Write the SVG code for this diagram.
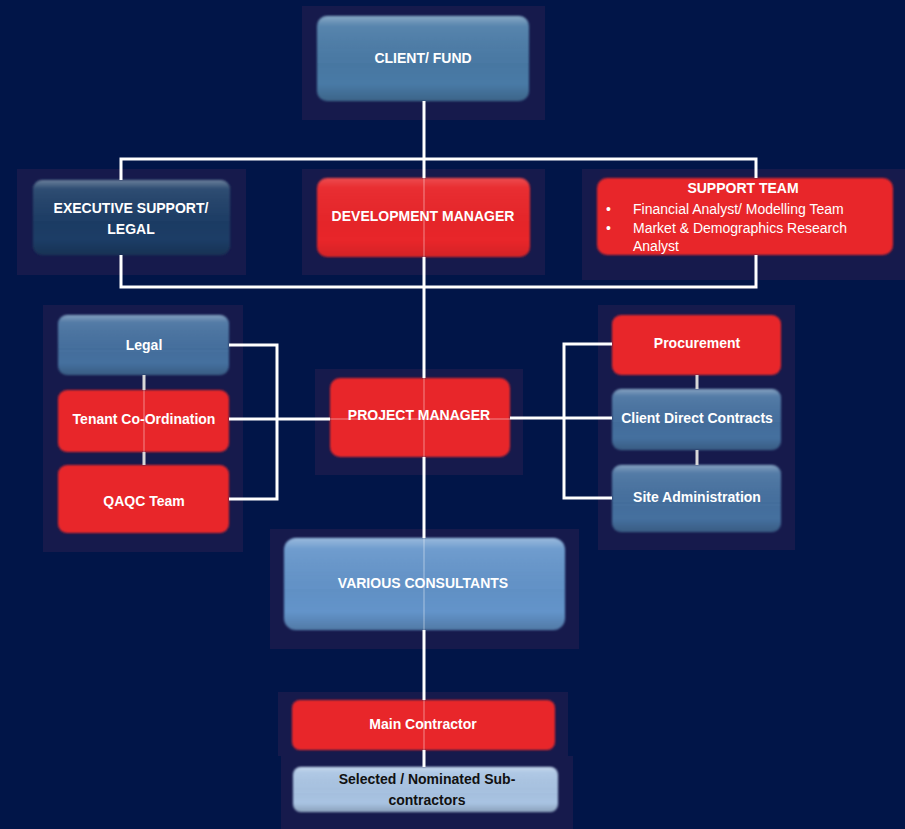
<svg xmlns="http://www.w3.org/2000/svg" width="905" height="829" viewBox="0 0 905 829">
<defs>
<style>
.panel{fill:#161a4c}
.box{filter:url(#soft)}
.red{fill:#e8262a}
.dblue{fill:#1f3e66}
.mblue{fill:#45709f}
.cblue{fill:#4a7aa6}
.vblue{fill:#6394ca}
.lblue{fill:#a9c4e3}
.gloss{fill:url(#gloss)}
.t{font-family:"Liberation Sans",Arial,sans-serif;font-size:14px;font-weight:bold;fill:#ffffff;text-anchor:middle}
.tb{font-family:"Liberation Sans",Arial,sans-serif;font-size:14px;font-weight:bold;fill:#111111;text-anchor:middle}
.tr{font-family:"Liberation Sans",Arial,sans-serif;font-size:14px;fill:#ffffff}
.ln{fill:none;stroke:#ffffff;stroke-width:3}
.lg{fill:none;stroke:#d8d8d8;stroke-width:3}
.lf{fill:none;stroke:#ffffff;stroke-width:1.5;opacity:0.3}
</style>
<filter id="soft" x="-5%" y="-10%" width="110%" height="120%">
<feGaussianBlur stdDeviation="1.3"/>
</filter>
<linearGradient id="gloss" x1="0" y1="0" x2="0" y2="1">
<stop offset="0" stop-color="#ffffff" stop-opacity="0.35"/>
<stop offset="0.12" stop-color="#ffffff" stop-opacity="0.08"/>
<stop offset="0.8" stop-color="#000000" stop-opacity="0"/>
<stop offset="1" stop-color="#000000" stop-opacity="0.18"/>
</linearGradient>
</defs>
<rect width="905" height="829" fill="#011548"/>

<g id="client-fund">
<rect class="panel" x="302" y="6" width="243" height="114"/>
<rect class="box cblue" x="317" y="16" width="212" height="85" rx="10"/>
<rect class="box gloss" x="317" y="16" width="212" height="85" rx="10"/>
<text class="t" x="423" y="62.5">CLIENT/ FUND</text>
</g>

<g id="executive-support">
<rect class="panel" x="17" y="169" width="229" height="106"/>
<rect class="box dblue" x="33" y="180" width="197" height="75" rx="9"/>
<rect class="box gloss" x="33" y="180" width="197" height="75" rx="9"/>
<text class="t" x="131" y="213">EXECUTIVE SUPPORT/</text>
<text class="t" x="131" y="233.5">LEGAL</text>
</g>

<g id="development-manager">
<rect class="panel" x="302" y="169" width="243" height="106"/>
<rect class="box red" x="317" y="178" width="213" height="79" rx="10"/>
<rect class="box gloss" x="317" y="178" width="213" height="79" rx="10" opacity="0.5"/>
<text class="t" x="423" y="221">DEVELOPMENT MANAGER</text>
</g>

<g id="support-team">
<rect class="panel" x="582" y="169" width="323" height="111"/>
<rect class="box red" x="597" y="178" width="296" height="77" rx="10"/>
<text class="t" x="743" y="193">SUPPORT TEAM</text>
<text class="tr" x="606" y="214">•</text>
<text class="tr" x="633" y="214">Financial Analyst/ Modelling Team</text>
<text class="tr" x="606" y="233">•</text>
<text class="tr" x="633" y="233">Market &amp; Demographics Research</text>
<text class="tr" x="633" y="251">Analyst</text>
</g>

<g id="left-panel">
<rect class="panel" x="43" y="305" width="200" height="247"/>
</g>
<g id="legal">
<rect class="box mblue" x="58" y="315" width="171" height="60" rx="9"/>
<rect class="box gloss" x="58" y="315" width="171" height="60" rx="9"/>
<text class="t" x="144" y="350">Legal</text>
</g>
<g id="tenant-coordination">
<rect class="box red" x="58" y="390" width="171" height="62" rx="9"/>
<text class="t" x="144" y="424">Tenant Co-Ordination</text>
</g>
<g id="qaqc-team">
<rect class="box red" x="58" y="465" width="171" height="68" rx="9"/>
<text class="t" x="144" y="506">QAQC Team</text>
</g>

<g id="project-manager">
<rect class="panel" x="315" y="369" width="208" height="106"/>
<rect class="box red" x="330" y="378" width="180" height="79" rx="10"/>
<text class="t" x="419" y="420">PROJECT MANAGER</text>
</g>

<g id="right-panel">
<rect class="panel" x="598" y="305" width="197" height="245"/>
</g>
<g id="procurement">
<rect class="box red" x="612" y="315" width="169" height="60" rx="9"/>
<text class="t" x="697" y="348">Procurement</text>
</g>
<g id="client-direct-contracts">
<rect class="box mblue" x="612" y="389" width="169" height="61" rx="9"/>
<rect class="box gloss" x="612" y="389" width="169" height="61" rx="9"/>
<text class="t" x="697" y="423">Client Direct Contracts</text>
</g>
<g id="site-administration">
<rect class="box mblue" x="612" y="465" width="169" height="67" rx="9"/>
<rect class="box gloss" x="612" y="465" width="169" height="67" rx="9"/>
<text class="t" x="697" y="502">Site Administration</text>
</g>

<g id="various-consultants">
<rect class="panel" x="270" y="529" width="309" height="120"/>
<rect class="box vblue" x="284" y="538" width="281" height="92" rx="12"/>
<rect class="box gloss" x="284" y="538" width="281" height="92" rx="12"/>
<text class="t" x="423" y="588">VARIOUS CONSULTANTS</text>
</g>

<g id="main-contractor">
<rect class="panel" x="278" y="692" width="290" height="64"/>
<rect class="box red" x="292" y="700" width="263" height="50" rx="8"/>
<text class="t" x="423" y="729">Main Contractor</text>
</g>

<g id="sub-contractors">
<rect class="panel" x="281" y="756" width="292" height="73"/>
<rect class="box lblue" x="293" y="767" width="265" height="45" rx="8"/>
<rect class="box gloss" x="293" y="767" width="265" height="45" rx="8"/>
<text class="tb" x="427" y="784">Selected / Nominated Sub-</text>
<text class="tb" x="427" y="805">contractors</text>
</g>

<g id="connectors">
<path class="ln" d="M424,101 V178"/>
<path class="ln" d="M121,180 V159 H756 V178"/>
<path class="ln" d="M424,257 V378"/>
<path class="ln" d="M121,255 V287 H756 V255"/>
<path class="ln" d="M424,457 V538"/>
<path class="ln" d="M424,630 V700"/>
<path class="ln" d="M424,750 V767"/>
<path class="ln" d="M229,345 H277 V499 H229"/>
<path class="ln" d="M229,419 H330"/>
<path class="ln" d="M612,344 H564 V498 H612"/>
<path class="ln" d="M510,418 H612"/>
<path class="lg" d="M144,375 V390 M144,452 V465"/>
<path class="lg" d="M697,375 V389 M697,450 V465"/>
<path class="lf" d="M424,178 V257 M424,378 V457 M424,538 V630 M424,700 V750 M330,419 H510 M144,390 V452"/>
</g>
</svg>
